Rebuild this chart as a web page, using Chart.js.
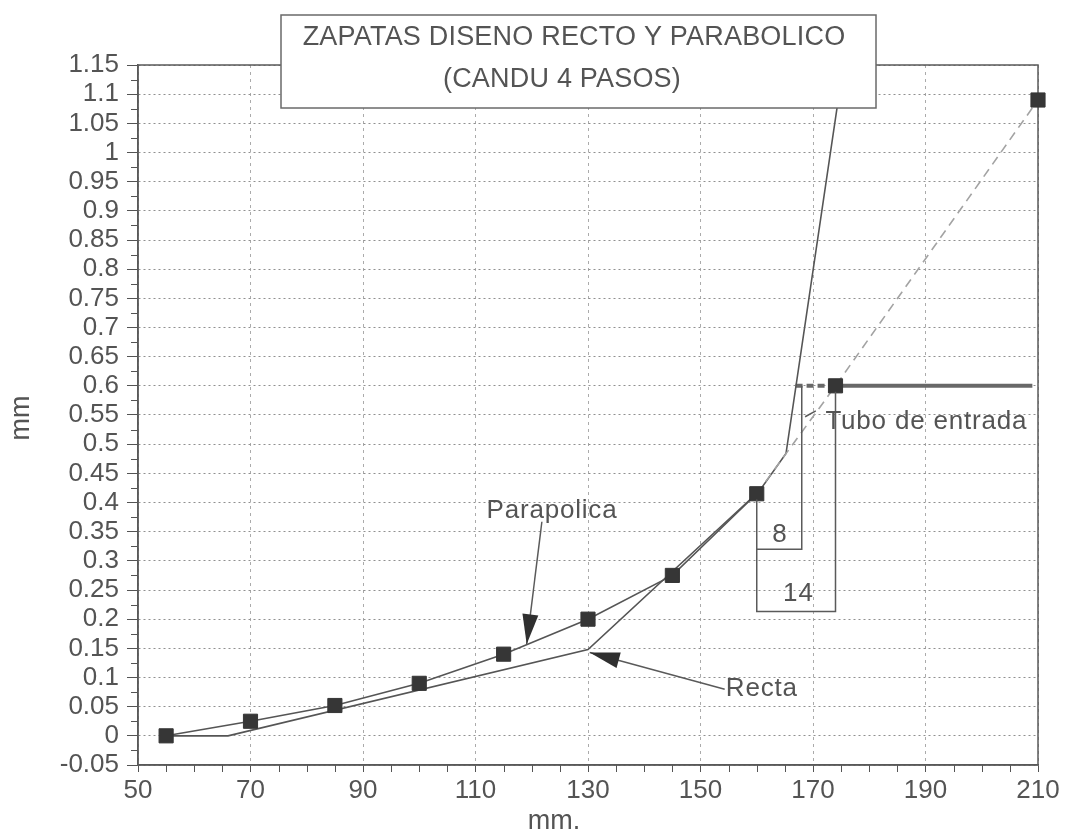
<!DOCTYPE html>
<html lang="es">
<head>
  <meta charset="UTF-8">
  <title>Zapatas diseno recto y parabolico</title>
  <script src="https://cdn.jsdelivr.net/npm/chart.js"></script>
  <style>
    body {
      margin: 0;
      background: #fff;
    }
    .chart-box {
      width: 1070px;
      height: 840px;
    }
  </style>
</head>
<body>
  <div class="chart-box">
    <canvas id="zapatasChart" width="1070" height="840"></canvas>
  </div>

  <script>
    // perfil parabolico (con marcadores)
    const parabX = [55, 70, 85, 100, 115, 130, 145, 160, 174, 210];
    const parabY = [0, 0.025, 0.052, 0.09, 0.14, 0.2, 0.275, 0.415, 0.6, 1.09];

    // perfil recto
    const rectaX = [55, 66, 130, 160.5, 165.2, 175.4];
    const rectaY = [0, 0, 0.148, 0.42, 0.484, 1.15];

    // tubo de entrada
    const tuboX = [166.9, 174, 209];
    const tuboY = [0.6, 0.6, 0.6];

    const xTicks = [50, 70, 90, 110, 130, 150, 170, 190, 210];
    const yTicks = [-0.05, 0, 0.05, 0.1, 0.15, 0.2, 0.25, 0.3, 0.35, 0.4, 0.45, 0.5, 0.55,
                    0.6, 0.65, 0.7, 0.75, 0.8, 0.85, 0.9, 0.95, 1, 1.05, 1.1, 1.15];

    const ink = '#545454';
    const fontFamily = '"Liberation Sans", Arial, Helvetica, sans-serif';

    // cotas, flechas y rotulos, en unidades de los ejes
    const dimLines = [
      [[160, 0.405], [160, 0.32], [168, 0.32], [168, 0.6]],
      [[160, 0.32], [160, 0.213], [174, 0.213], [174, 0.59]]
    ];
    const arrows = [
      { from: [121.8, 0.367], to: [119.1, 0.157] },
      { from: [154.3, 0.08], to: [130.3, 0.143] }
    ];
    const notes = [
      { text: 'Parapolica', at: [123.6, 0.385], align: 'center' },
      { text: 'Recta', at: [154.5, 0.08], align: 'left' },
      { text: 'Tubo de entrada', at: [172.2, 0.538], align: 'left' },
      { text: '8', at: [164.1, 0.345], align: 'center' },
      { text: '14', at: [167.4, 0.244], align: 'center' }
    ];

    const toPoints = (xs, ys) => xs.map((v, i) => ({ x: v, y: ys[i] }));

    const extras = {
      id: 'extras',
      beforeDatasetsDraw(chart) {
        const { ctx, chartArea: a, scales: { x, y } } = chart;
        ctx.save();
        ctx.strokeStyle = ink;
        ctx.lineWidth = 1;
        ctx.beginPath();
        for (let v = 55; v < 210; v += 5) {
          if (xTicks.includes(v)) continue;
          const p = Math.round(x.getPixelForValue(v)) + 0.5;
          ctx.moveTo(p, a.bottom);
          ctx.lineTo(p, a.bottom + 7);
        }
        for (let i = 1; i < 48; i += 2) {
          const p = Math.round(y.getPixelForValue(-0.05 + i * 0.025)) + 0.5;
          ctx.moveTo(a.left - 7, p);
          ctx.lineTo(a.left, p);
        }
        ctx.stroke();
        ctx.lineWidth = 1.5;
        ctx.strokeStyle = '#5a5a5a';
        ctx.strokeRect(a.left, a.top, a.right - a.left, a.bottom - a.top);
        ctx.restore();
      },
      afterDatasetsDraw(chart) {
        const { ctx, scales: { x, y } } = chart;
        const px = p => [x.getPixelForValue(p[0]), y.getPixelForValue(p[1])];
        ctx.save();
        ctx.strokeStyle = '#5a5a5a';
        ctx.lineWidth = 1.5;

        dimLines.forEach(line => {
          ctx.beginPath();
          line.forEach((p, i) => {
            const [X, Y] = px(p);
            if (i === 0) ctx.moveTo(X, Y); else ctx.lineTo(X, Y);
          });
          ctx.stroke();
        });

        arrows.forEach(ar => {
          const [x0, y0] = px(ar.from);
          const [x1, y1] = px(ar.to);
          const ang = Math.atan2(y1 - y0, x1 - x0);
          ctx.beginPath();
          ctx.moveTo(x0, y0);
          ctx.lineTo(x1, y1);
          ctx.stroke();
          const len = 30, half = 8;
          const bx = x1 - len * Math.cos(ang), by = y1 - len * Math.sin(ang);
          ctx.beginPath();
          ctx.moveTo(x1, y1);
          ctx.lineTo(bx + half * Math.sin(ang), by - half * Math.cos(ang));
          ctx.lineTo(bx - half * Math.sin(ang), by + half * Math.cos(ang));
          ctx.closePath();
          ctx.fillStyle = '#303030';
          ctx.fill();
        });

        // guion junto a "Tubo de entrada"
        ctx.beginPath();
        const [tx0, ty0] = px([168.6, 0.547]);
        const [tx1, ty1] = px([170.5, 0.557]);
        ctx.moveTo(tx0, ty0);
        ctx.lineTo(tx1, ty1);
        ctx.stroke();

        ctx.fillStyle = ink;
        ctx.font = '26px ' + fontFamily;
        ctx.letterSpacing = '0.8px';
        ctx.textBaseline = 'middle';
        notes.forEach(n => {
          const [X, Y] = px(n.at);
          ctx.textAlign = n.align;
          ctx.fillText(n.text, X, Y);
        });
        ctx.restore();
      },
      afterDraw(chart) {
        const { ctx } = chart;
        ctx.save();
        ctx.fillStyle = '#fff';
        ctx.fillRect(281, 15, 595, 93);
        ctx.strokeStyle = '#6a6a6a';
        ctx.lineWidth = 1.5;
        ctx.strokeRect(281, 15, 595, 93);

        ctx.fillStyle = ink;
        ctx.textAlign = 'center';
        ctx.textBaseline = 'middle';
        ctx.font = '27px ' + fontFamily;
        ctx.letterSpacing = '0.2px';
        ctx.fillText('ZAPATAS DISENO RECTO Y PARABOLICO', 574, 38);
        ctx.fillText('(CANDU 4 PASOS)', 562, 80);

        ctx.letterSpacing = '0px';
        ctx.fillText('mm.', 554, 822);
        ctx.translate(22, 418);
        ctx.rotate(-Math.PI / 2);
        ctx.fillText('mm', 0, 0);
        ctx.restore();
      }
    };

    const ctx = document.getElementById('zapatasChart').getContext('2d');
    const zapatasChart = new Chart(ctx, {
      type: 'scatter',
      data: {
        datasets: [{
          label: 'Parabolica',
          data: toPoints(parabX, parabY),
          showLine: true,
          borderColor: '#555',
          borderWidth: 1.6,
          pointStyle: 'rect',
          pointRadius: 10,
          pointBackgroundColor: '#363636',
          pointBorderColor: '#363636',
          pointBorderWidth: 1,
          clip: false,
          segment: {
            borderColor: c => c.p0.parsed.x >= 160 ? '#a3a3a3' : undefined,
            borderDash: c => c.p0.parsed.x >= 160 ? [9, 6] : undefined
          }
        }, {
          label: 'Recta',
          data: toPoints(rectaX, rectaY),
          showLine: true,
          borderColor: '#555',
          borderWidth: 1.6,
          pointRadius: 0
        }, {
          label: 'Tubo de entrada',
          data: toPoints(tuboX, tuboY),
          showLine: true,
          borderColor: '#686868',
          borderWidth: 4,
          pointRadius: 0,
          segment: {
            borderDash: c => c.p0.parsed.x < 174 ? [7, 4] : undefined
          }
        }]
      },
      options: {
        responsive: false,
        animation: false,
        devicePixelRatio: 1,
        layout: {
          padding: { top: 65, right: 32, bottom: 0, left: 0 }
        },
        plugins: {
          legend: { display: false },
          tooltip: { enabled: false }
        },
        scales: {
          x: {
            type: 'linear',
            min: 50,
            max: 210,
            afterFit: s => { s.height = 75; },
            afterBuildTicks: s => { s.ticks = xTicks.map(v => ({ value: v })); },
            grid: {
              color: '#ababab',
              tickColor: ink,
              tickLength: 7,
              tickBorderDash: []
            },
            border: { color: '#5a5a5a', width: 1.5, dash: [3, 4] },
            ticks: {
              autoSkip: false,
              maxRotation: 0,
              padding: 3,
              color: ink,
              font: { family: fontFamily, size: 26 }
            }
          },
          y: {
            type: 'linear',
            min: -0.05,
            max: 1.15,
            afterFit: s => { s.width = 138; },
            afterBuildTicks: s => { s.ticks = yTicks.map(v => ({ value: v })); },
            grid: {
              color: '#909090',
              tickColor: ink,
              tickLength: 11,
              tickBorderDash: []
            },
            border: { color: '#5a5a5a', width: 1.5, dash: [2, 3] },
            ticks: {
              autoSkip: false,
              padding: 8,
              color: ink,
              font: { family: fontFamily, size: 26 },
              callback: v => String(parseFloat(v.toFixed(2)))
            }
          }
        }
      },
      plugins: [extras]
    });
  </script>
</body>
</html>
